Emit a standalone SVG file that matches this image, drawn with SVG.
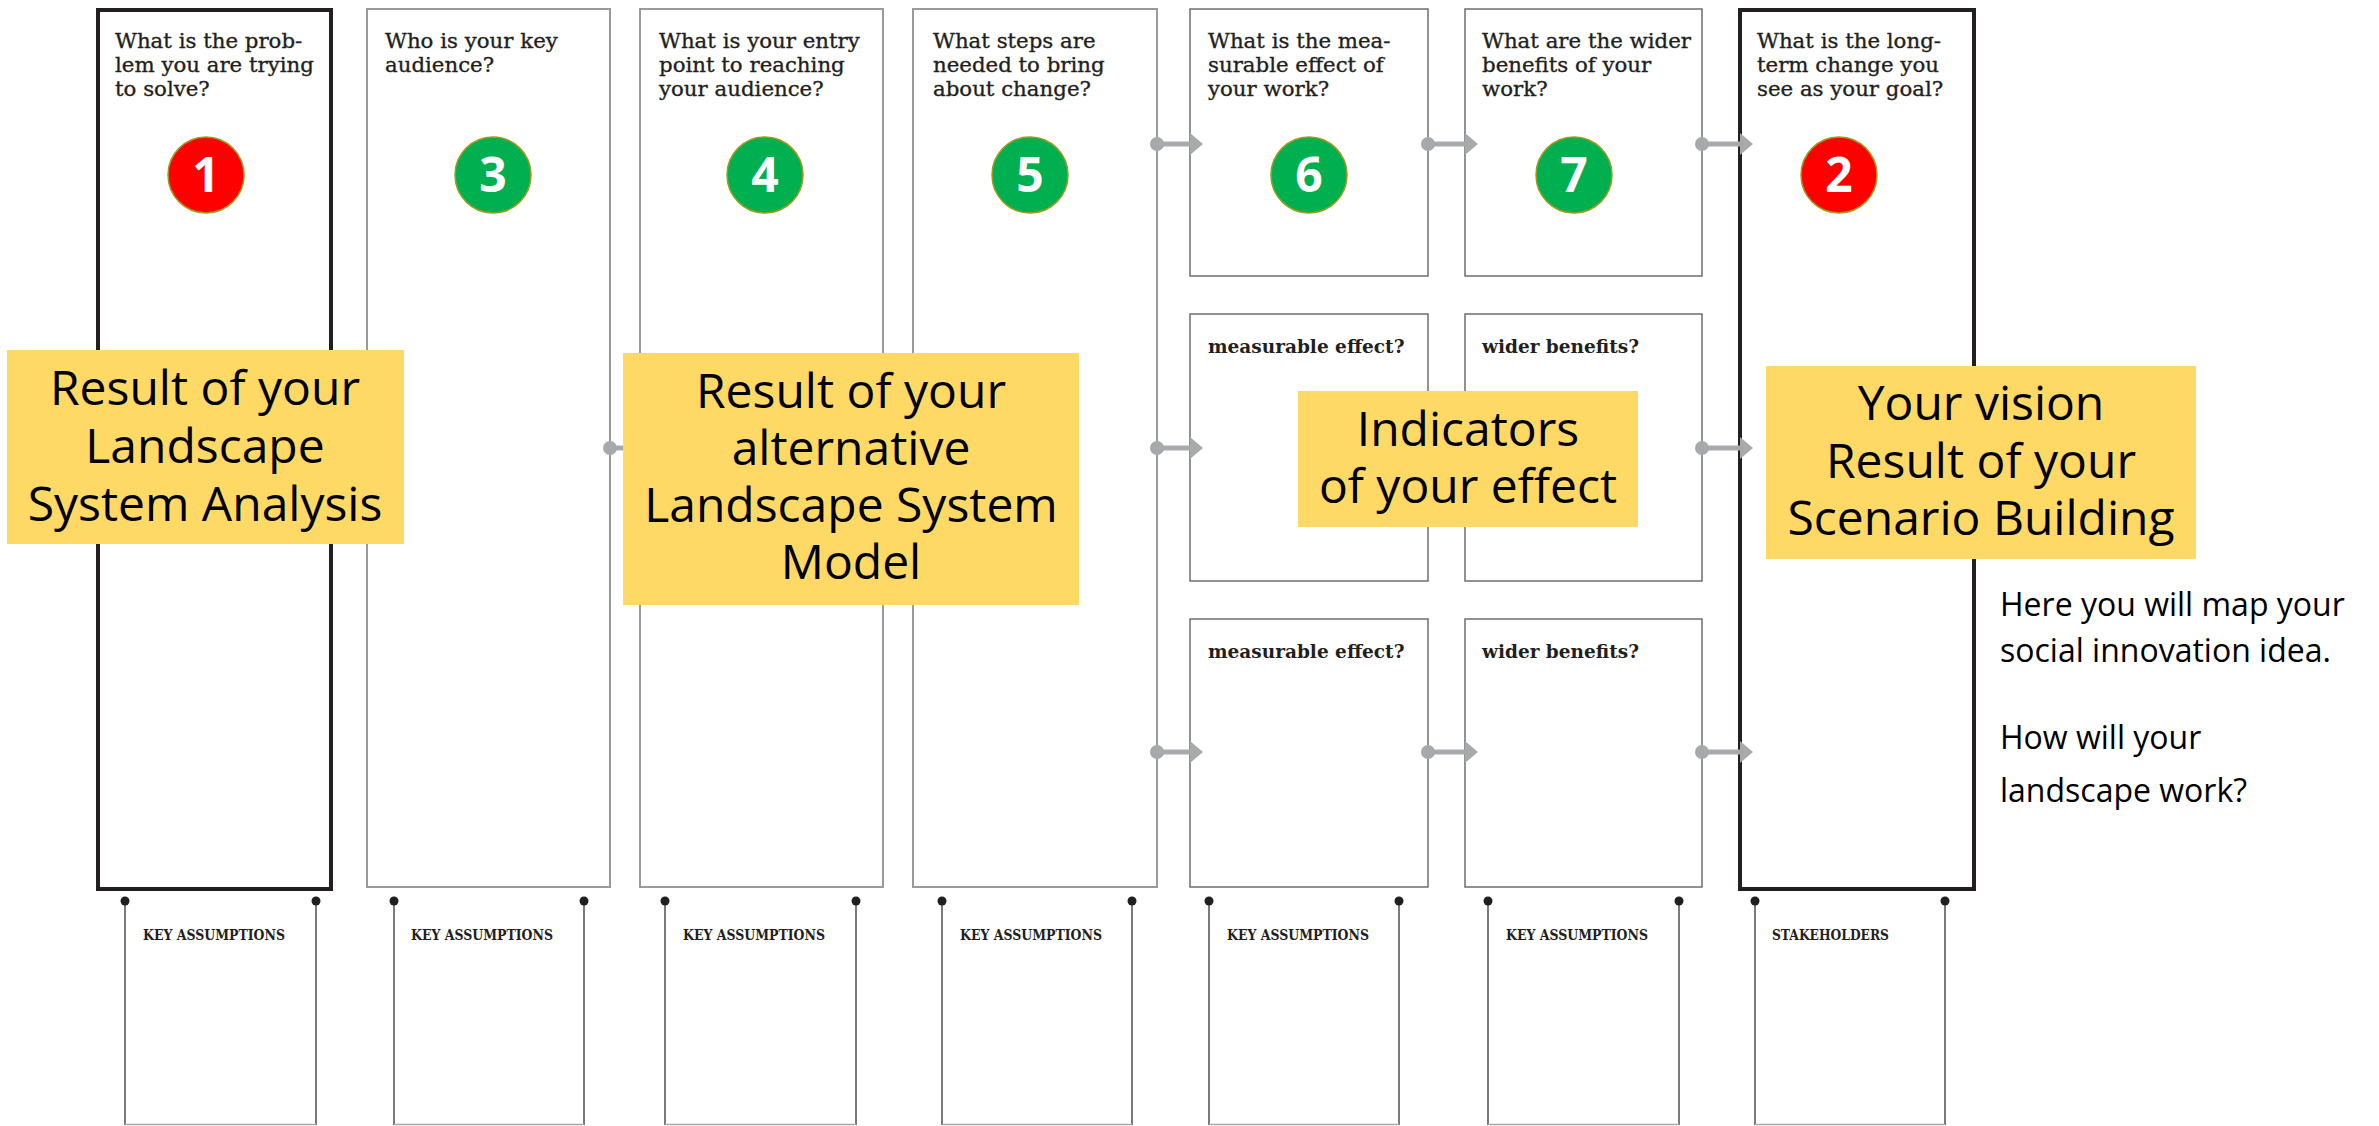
<svg xmlns="http://www.w3.org/2000/svg" width="2379" height="1126" viewBox="0 0 2379 1126">
<defs>
<style>
.bg{fill:#ffffff}
.thick{fill:#ffffff;stroke:#231f20;stroke-width:4}
.col{fill:#ffffff;stroke:#9a9a9a;stroke-width:2}
.small{fill:#ffffff;stroke:#6d6e71;stroke-width:1.5}
.q{font-family:"DejaVu Serif","Liberation Serif",serif;font-size:21.3px;fill:#231f20;stroke:#231f20;stroke-width:0.35}
.sq{font-family:"DejaVu Serif","Liberation Serif",serif;font-size:18.5px;font-weight:bold;fill:#231f20}
.ka{font-family:"DejaVu Serif","Liberation Serif",serif;font-size:14px;font-weight:bold;fill:#231f20}
.red{fill:#ff0000;stroke:#9c9c1c;stroke-width:1.5}
.green{fill:#00b050;stroke:#9c9c1c;stroke-width:1.5}
.num{font-family:"Open Sans","Noto Sans",sans-serif;font-size:48px;font-weight:bold;fill:#ffffff;text-anchor:middle}
.conn{stroke:#a7a9ac;stroke-width:5;fill:none}
.note{fill:#ffd966}
.nt{font-family:"Open Sans","Noto Sans",sans-serif;font-size:48px;fill:#000000;text-anchor:middle}
.side{font-family:"Open Sans","Noto Sans",sans-serif;font-size:32px;fill:#000000}
.leg{stroke:#231f20;stroke-width:1.2}
.base{stroke:#a7a9ac;stroke-width:1.5}
.pin{fill:#231f20}
</style>
<marker id="dot" markerUnits="userSpaceOnUse" markerWidth="16" markerHeight="16" refX="8" refY="8" orient="auto">
<circle cx="8" cy="8" r="7" fill="#a7a9ac"/>
</marker>
<marker id="arrow" markerUnits="userSpaceOnUse" markerWidth="14" markerHeight="22" refX="0" refY="11" orient="auto">
<polygon points="0,0 13,11 0,22" fill="#a7a9ac"/>
</marker>
</defs>
<rect class="bg" x="0" y="0" width="2379" height="1126"/>

<g id="box-problem">
<rect class="thick" x="98" y="10" width="233" height="879"/>
<text class="q" x="115" y="48">What is the prob-</text>
<text class="q" x="115" y="72">lem you are trying</text>
<text class="q" x="115" y="96">to solve?</text>
<circle class="red" cx="206" cy="175" r="38"/>
<text class="num" x="206" y="192">1</text>
</g>

<g id="box-audience">
<rect class="col" x="367" y="9" width="243" height="878"/>
<text class="q" x="385" y="48">Who is your key</text>
<text class="q" x="385" y="72">audience?</text>
<circle class="green" cx="493" cy="175" r="38"/>
<text class="num" x="493" y="192">3</text>
</g>

<g id="box-entry">
<rect class="col" x="640" y="9" width="243" height="878"/>
<text class="q" x="659" y="48">What is your entry</text>
<text class="q" x="659" y="72">point to reaching</text>
<text class="q" x="659" y="96">your audience?</text>
<circle class="green" cx="765" cy="175" r="38"/>
<text class="num" x="765" y="192">4</text>
</g>

<g id="box-steps">
<rect class="col" x="913" y="9" width="244" height="878"/>
<text class="q" x="933" y="48">What steps are</text>
<text class="q" x="933" y="72">needed to bring</text>
<text class="q" x="933" y="96">about change?</text>
<circle class="green" cx="1030" cy="175" r="38"/>
<text class="num" x="1030" y="192">5</text>
</g>

<g id="box-effect">
<rect class="small" x="1190" y="9" width="238" height="267"/>
<text class="q" x="1208" y="48">What is the mea-</text>
<text class="q" x="1208" y="72">surable effect of</text>
<text class="q" x="1208" y="96">your work?</text>
<circle class="green" cx="1309" cy="175" r="38"/>
<text class="num" x="1309" y="192">6</text>
</g>

<g id="box-benefits">
<rect class="small" x="1465" y="9" width="237" height="267"/>
<text class="q" x="1482" y="48">What are the wider</text>
<text class="q" x="1482" y="72">benefits of your</text>
<text class="q" x="1482" y="96">work?</text>
<circle class="green" cx="1574" cy="175" r="38"/>
<text class="num" x="1574" y="192">7</text>
</g>

<g id="box-goal">
<rect class="thick" x="1740" y="10" width="234" height="879"/>
<text class="q" x="1757" y="48">What is the long-</text>
<text class="q" x="1757" y="72">term change you</text>
<text class="q" x="1757" y="96">see as your goal?</text>
<circle class="red" cx="1839" cy="175" r="38"/>
<text class="num" x="1839" y="192">2</text>
</g>

<g id="box-effect-2">
<rect class="small" x="1190" y="314" width="238" height="267"/>
<text class="sq" x="1208" y="353">measurable effect?</text>
</g>
<g id="box-benefits-2">
<rect class="small" x="1465" y="314" width="237" height="267"/>
<text class="sq" x="1482" y="353">wider benefits?</text>
</g>
<g id="box-effect-3">
<rect class="small" x="1190" y="619" width="238" height="268"/>
<text class="sq" x="1208" y="658">measurable effect?</text>
</g>
<g id="box-benefits-3">
<rect class="small" x="1465" y="619" width="237" height="268"/>
<text class="sq" x="1482" y="658">wider benefits?</text>
</g>

<g id="assumptions-1">
<line class="leg" x1="125" y1="901" x2="125" y2="1125"/><line class="leg" x1="316" y1="901" x2="316" y2="1125"/>
<line class="base" x1="125" y1="1124.5" x2="316" y2="1124.5"/>
<circle class="pin" cx="125" cy="901" r="4.5"/><circle class="pin" cx="316" cy="901" r="4.5"/>
<text class="ka" x="143" y="940" textLength="142" lengthAdjust="spacingAndGlyphs">KEY ASSUMPTIONS</text>
</g>
<g id="assumptions-3">
<line class="leg" x1="394" y1="901" x2="394" y2="1125"/><line class="leg" x1="584" y1="901" x2="584" y2="1125"/>
<line class="base" x1="394" y1="1124.5" x2="584" y2="1124.5"/>
<circle class="pin" cx="394" cy="901" r="4.5"/><circle class="pin" cx="584" cy="901" r="4.5"/>
<text class="ka" x="411" y="940" textLength="142" lengthAdjust="spacingAndGlyphs">KEY ASSUMPTIONS</text>
</g>
<g id="assumptions-4">
<line class="leg" x1="665" y1="901" x2="665" y2="1125"/><line class="leg" x1="856" y1="901" x2="856" y2="1125"/>
<line class="base" x1="665" y1="1124.5" x2="856" y2="1124.5"/>
<circle class="pin" cx="665" cy="901" r="4.5"/><circle class="pin" cx="856" cy="901" r="4.5"/>
<text class="ka" x="683" y="940" textLength="142" lengthAdjust="spacingAndGlyphs">KEY ASSUMPTIONS</text>
</g>
<g id="assumptions-5">
<line class="leg" x1="942" y1="901" x2="942" y2="1125"/><line class="leg" x1="1132" y1="901" x2="1132" y2="1125"/>
<line class="base" x1="942" y1="1124.5" x2="1132" y2="1124.5"/>
<circle class="pin" cx="942" cy="901" r="4.5"/><circle class="pin" cx="1132" cy="901" r="4.5"/>
<text class="ka" x="960" y="940" textLength="142" lengthAdjust="spacingAndGlyphs">KEY ASSUMPTIONS</text>
</g>
<g id="assumptions-6">
<line class="leg" x1="1209" y1="901" x2="1209" y2="1125"/><line class="leg" x1="1399" y1="901" x2="1399" y2="1125"/>
<line class="base" x1="1209" y1="1124.5" x2="1399" y2="1124.5"/>
<circle class="pin" cx="1209" cy="901" r="4.5"/><circle class="pin" cx="1399" cy="901" r="4.5"/>
<text class="ka" x="1227" y="940" textLength="142" lengthAdjust="spacingAndGlyphs">KEY ASSUMPTIONS</text>
</g>
<g id="assumptions-7">
<line class="leg" x1="1488" y1="901" x2="1488" y2="1125"/><line class="leg" x1="1679" y1="901" x2="1679" y2="1125"/>
<line class="base" x1="1488" y1="1124.5" x2="1679" y2="1124.5"/>
<circle class="pin" cx="1488" cy="901" r="4.5"/><circle class="pin" cx="1679" cy="901" r="4.5"/>
<text class="ka" x="1506" y="940" textLength="142" lengthAdjust="spacingAndGlyphs">KEY ASSUMPTIONS</text>
</g>
<g id="stakeholders">
<line class="leg" x1="1755" y1="901" x2="1755" y2="1125"/><line class="leg" x1="1945" y1="901" x2="1945" y2="1125"/>
<line class="base" x1="1755" y1="1124.5" x2="1945" y2="1124.5"/>
<circle class="pin" cx="1755" cy="901" r="4.5"/><circle class="pin" cx="1945" cy="901" r="4.5"/>
<text class="ka" x="1772" y="940" textLength="117" lengthAdjust="spacingAndGlyphs">STAKEHOLDERS</text>
</g>

<g id="connectors">
<line class="conn" x1="1157" y1="144" x2="1190" y2="144" marker-start="url(#dot)" marker-end="url(#arrow)"/>
<line class="conn" x1="1428" y1="144" x2="1465" y2="144" marker-start="url(#dot)" marker-end="url(#arrow)"/>
<line class="conn" x1="1702" y1="144" x2="1740" y2="144" marker-start="url(#dot)" marker-end="url(#arrow)"/>
<line class="conn" x1="610" y1="448" x2="640" y2="448" marker-start="url(#dot)" marker-end="url(#arrow)"/>
<line class="conn" x1="1157" y1="448" x2="1190" y2="448" marker-start="url(#dot)" marker-end="url(#arrow)"/>
<line class="conn" x1="1702" y1="448" x2="1740" y2="448" marker-start="url(#dot)" marker-end="url(#arrow)"/>
<line class="conn" x1="1157" y1="752" x2="1190" y2="752" marker-start="url(#dot)" marker-end="url(#arrow)"/>
<line class="conn" x1="1428" y1="752" x2="1465" y2="752" marker-start="url(#dot)" marker-end="url(#arrow)"/>
<line class="conn" x1="1702" y1="752" x2="1740" y2="752" marker-start="url(#dot)" marker-end="url(#arrow)"/>
</g>

<g id="note-analysis">
<rect class="note" x="7" y="350" width="397" height="194"/>
<text class="nt" x="205" y="405">Result of your</text>
<text class="nt" x="205" y="463">Landscape</text>
<text class="nt" x="205" y="521">System Analysis</text>
</g>
<g id="note-model">
<rect class="note" x="623" y="353" width="456" height="252"/>
<text class="nt" x="851" y="408">Result of your</text>
<text class="nt" x="851" y="465">alternative</text>
<text class="nt" x="851" y="522">Landscape System</text>
<text class="nt" x="851" y="579">Model</text>
</g>
<g id="note-indicators">
<rect class="note" x="1298" y="391" width="340" height="136"/>
<text class="nt" x="1468" y="446">Indicators</text>
<text class="nt" x="1468" y="503">of your effect</text>
</g>
<g id="note-vision">
<rect class="note" x="1766" y="366" width="430" height="193"/>
<text class="nt" x="1981" y="420">Your vision</text>
<text class="nt" x="1981" y="478">Result of your</text>
<text class="nt" x="1981" y="535">Scenario Building</text>
</g>

<g id="side-note">
<text class="side" x="2000" y="616">Here you will map your</text>
<text class="side" x="2000" y="662">social innovation idea.</text>
<text class="side" x="2000" y="749">How will your</text>
<text class="side" x="2000" y="802">landscape work?</text>
</g>
</svg>
